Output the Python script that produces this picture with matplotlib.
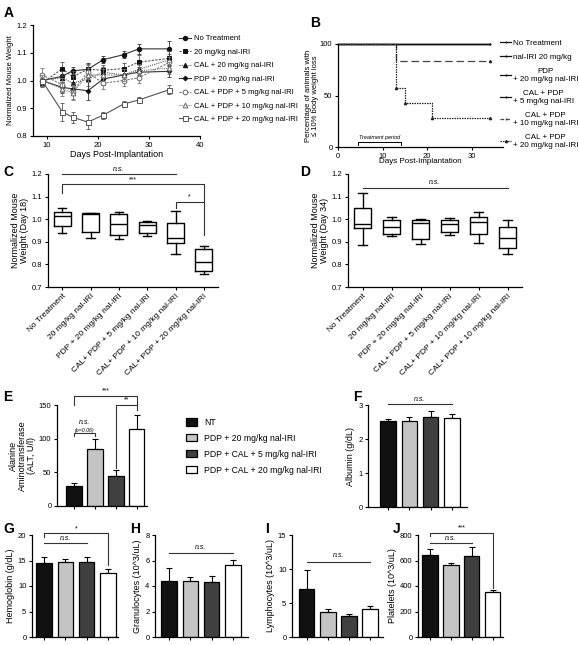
import matplotlib
matplotlib.use('Agg')
import matplotlib.pyplot as plt
from matplotlib.lines import Line2D
from matplotlib.patches import Patch

plt.rcParams['font.family'] = ['Liberation Sans', 'DejaVu Sans']
plt.rcParams['axes.linewidth'] = 0.9
plt.rcParams['xtick.major.width'] = 0.8
plt.rcParams['ytick.major.width'] = 0.8
plt.rcParams['xtick.major.size'] = 2.5
plt.rcParams['ytick.major.size'] = 2.5
plt.rcParams['xtick.major.pad'] = 1.5
plt.rcParams['ytick.major.pad'] = 1.5

# ---------------- data ----------------
# Panel A
days = [9, 13, 15, 18, 21, 25, 28, 34]
a_labels = ["No Treatment", "20 mg/kg nal-IRI", "CAL + 20 mg/kg nal-IRI", "PDP + 20 mg/kg nal-IRI",
            "CAL + PDP + 5 mg/kg nal-IRI", "CAL + PDP + 10 mg/kg nal-IRI", "CAL + PDP + 20 mg/kg nal-IRI"]
a_nt = [1.000, 1.015, 1.035, 1.040, 1.075, 1.093, 1.114, 1.114]
a_nt_err = [0.02, 0.02, 0.012, 0.022, 0.012, 0.012, 0.018, 0.03]
a_n20 = [0.990, 1.043, 1.013, 1.041, 1.037, 1.043, 1.066, 1.080]
a_n20_err = [0.015, 0.025, 0.02, 0.02, 0.02, 0.02, 0.025, 0.025]
a_c20 = [1.000, 1.010, 0.990, 1.005, 1.030, 1.020, 1.040, 1.075]
a_c20_err = [0.02, 0.025, 0.025, 0.025, 0.02, 0.02, 0.02, 0.02]
a_p20 = [1.000, 0.975, 0.970, 0.963, 1.005, 1.020, 1.030, 1.033]
a_p20_err = [0.02, 0.02, 0.02, 0.035, 0.02, 0.02, 0.02, 0.02]
a_cp5 = [1.020, 0.985, 0.960, 1.030, 0.990, 1.000, 1.010, 1.065]
a_cp5_err = [0.025, 0.025, 0.025, 0.025, 0.02, 0.02, 0.02, 0.02]
a_cp10 = [1.000, 0.970, 0.955, 1.020, 1.020, 1.020, 1.035, 1.045]
a_cp10_err = [0.02, 0.025, 0.025, 0.025, 0.02, 0.02, 0.02, 0.02]
a_cp20 = [1.000, 0.887, 0.868, 0.850, 0.875, 0.915, 0.930, 0.967]
a_cp20_err = [0.01, 0.032, 0.02, 0.025, 0.012, 0.01, 0.012, 0.015]

# Panel B (survival-like curves)
b_labels = ["No Treatment", "nal-IRI 20 mg/kg", "PDP\n+ 20 mg/kg nal-IRI", "CAL + PDP\n+ 5 mg/kg nal-IRI",
            "CAL + PDP\n+ 10 mg/kg nal-IRI", "CAL + PDP\n+ 20 mg/kg nal-IRI"]
b_t_flat = [0, 34]
b_s_flat = [100, 100]
b_t_10 = [0, 13, 34]
b_s_10 = [100, 83.3, 83.3]
b_t_20 = [0, 13, 15, 21, 34]
b_s_20 = [100, 57.1, 42.9, 28.6, 28.6]

# Panel C and D box plots: (whislo, q1, med, q3, whishi)
c_labels = ["No Treatment", "20 mg/kg nal-IRI", "PDP + 20 mg/kg nal-IRI", "CAL+ PDP + 5 mg/kg nal-IRI",
            "CAL+ PDP + 10 mg/kg nal-IRI", "CAL+ PDP + 20 mg/kg nal-IRI"]
c_whislo = [0.937, 0.917, 0.912, 0.926, 0.846, 0.756]
c_q1 = [0.970, 0.943, 0.929, 0.940, 0.893, 0.771]
c_med = [1.014, 1.021, 0.977, 0.974, 0.917, 0.809]
c_q3 = [1.030, 1.029, 1.024, 0.989, 0.985, 0.867]
c_whishi = [1.051, 1.029, 1.033, 0.993, 1.036, 0.881]

d_labels = ["No Treatment", "20 mg/kg nal-IRI", "PDP + 20 mg/kg nal-IRI", "CAL+ PDP + 5 mg/kg nal-IRI",
            "CAL+ PDP + 10 mg/kg nal-IRI", "CAL+ PDP + 10 mg/kg nal-IRI"]
d_whislo = [0.884, 0.926, 0.889, 0.932, 0.893, 0.845]
d_q1 = [0.963, 0.934, 0.911, 0.945, 0.934, 0.871]
d_med = [0.979, 0.967, 0.985, 0.977, 0.988, 0.917]
d_q3 = [1.048, 0.996, 0.997, 0.996, 1.008, 0.964]
d_whishi = [1.117, 1.008, 1.002, 1.004, 1.032, 0.996]

# Bar panels E-J (groups: NT, PDP+20, PDP+CAL+5, PDP+CAL+20)
bar_groups = ["NT", "PDP + 20 mg/kg nal-IRI", "PDP + CAL + 5 mg/kg nal-IRI", "PDP + CAL + 20 mg/kg nal-IRI"]
bar_colors = ["#111111", "#c4c4c4", "#404040", "#ffffff"]
e_alt = [30, 84, 45, 115]
e_alt_err = [4.5, 16, 8, 20]
f_alb = [2.52, 2.52, 2.65, 2.63]
f_alb_err = [0.06, 0.13, 0.18, 0.12]
g_hgb = [14.5, 14.7, 14.8, 12.5]
g_hgb_err = [1.1, 0.6, 0.9, 0.9]
h_gran = [4.4, 4.38, 4.3, 5.65]
h_gran_err = [1.05, 0.35, 0.5, 0.4]
i_lym = [7.0, 3.7, 3.15, 4.1]
i_lym_err = [2.9, 0.4, 0.3, 0.45]
j_plt = [643, 568, 638, 352]
j_plt_err = [47, 16, 67, 16]

# ---------------- figure ----------------
W, H = 579, 645
fig = plt.figure(figsize=(W / 100, H / 100), dpi=100)

def ax_px(l, t, r, b):
    ax = fig.add_axes([l / W, 1 - b / H, (r - l) / W, (b - t) / H])
    ax.spines['top'].set_visible(False)
    ax.spines['right'].set_visible(False)
    ax.tick_params(labelsize=5.5)
    return ax

def letter(x, y, s):
    fig.text(x / W, 1 - y / H, s, fontsize=10, fontweight='bold', va='top', ha='left')

TICK = 5.5
LAB = 6.5

# ---- Panel A ----
axA = ax_px(33, 25, 200, 136)
a_series = [a_nt, a_n20, a_c20, a_p20, a_cp5, a_cp10, a_cp20]
a_errs = [a_nt_err, a_n20_err, a_c20_err, a_p20_err, a_cp5_err, a_cp10_err, a_cp20_err]
a_markers = ['o', 's', '^', 'D', 'o', '^', 's']
a_ls = ['-', (0, (2, 1.2)), (0, (1, 1)), '-', (0, (2, 1.2)), (0, (1, 1)), '-']
a_face = ['#111111', '#111111', '#111111', '#111111', 'white', 'white', 'white']
a_edge = ['#111111', '#111111', '#111111', '#111111', '#666666', '#666666', '#555555']
a_lc = ['#333333', '#555555', '#555555', '#333333', '#777777', '#777777', '#555555']
a_ms = [3.2, 3.2, 3.2, 2.4, 3.4, 3.4, 3.6]
handles_a = []
for ys, es, mk, ls, fc, ec, lc, ms, lab in zip(a_series, a_errs, a_markers, a_ls, a_face, a_edge, a_lc, a_ms, a_labels):
    axA.errorbar(days, ys, yerr=es, fmt='none', ecolor=lc, elinewidth=0.6, capsize=1.5, capthick=0.6)
    axA.plot(days, ys, ls=ls, color=lc, lw=0.8, marker=mk, ms=ms, mfc=fc, mec=ec, mew=0.7)
    handles_a.append(Line2D([], [], ls=ls, color=lc, lw=0.8, marker=mk, ms=ms, mfc=fc, mec=ec, mew=0.7))
axA.set_xlim(7.25, 40)
axA.set_ylim(0.8, 1.2)
axA.set_xticks([10, 20, 30, 40])
axA.set_yticks([0.8, 0.9, 1.0, 1.1, 1.2])
axA.tick_params(labelsize=TICK)
axA.set_xlabel("Days Post-Implantation", fontsize=LAB, labelpad=1)
axA.set_ylabel("Normalized Mouse Weight", fontsize=5.5, labelpad=2)
axA.legend(handles_a, a_labels, loc='upper left', bbox_to_anchor=(179 / W, 1 - 35 / H),
           bbox_transform=fig.transFigure, frameon=False, fontsize=5.5, handlelength=1.6,
           handletextpad=0.4, labelspacing=0.8, borderpad=0, borderaxespad=0)
letter(4, 6, "A")

# ---- Panel B ----
axB = ax_px(338, 44, 503, 147)
axB.plot(b_t_flat, b_s_flat, color='#111111', lw=0.9, marker='|', ms=2, markevery=[1], clip_on=False)
axB.plot(b_t_flat, b_s_flat, color='#111111', lw=0.9, clip_on=False)
axB.plot(b_t_flat, b_s_flat, color='#111111', lw=0.9, clip_on=False)
axB.plot(b_t_flat, b_s_flat, color='#111111', lw=0.9, clip_on=False)
axB.plot(b_t_10, b_s_10, color='#444444', lw=0.9, ls=(0, (6, 3)), drawstyle='steps-post', clip_on=False)
axB.plot(b_t_20, b_s_20, color='#222222', lw=0.9, ls=(0, (1.2, 0.8)), drawstyle='steps-post', clip_on=False)
axB.plot(b_t_10[-1:], b_s_10[-1:], ls='none', marker='^', ms=1.6, color='#222222', clip_on=False)
axB.plot(b_t_20[1:], b_s_20[1:], ls='none', marker='^', ms=1.6, color='#222222', clip_on=False)
axB.set_xlim(0, 37)
axB.set_ylim(0, 100)
axB.set_xticks([0, 10, 20, 30])
axB.set_yticks([0, 50, 100])
axB.tick_params(labelsize=TICK)
axB.set_xlabel("Days Post-Implantation", fontsize=5.8, labelpad=-1)
axB.set_ylabel("Percentage of animals with\n≤ 10% body weight loss", fontsize=5.5, labelpad=1, linespacing=1.0)
# treatment period bracket
tp_start, tp_end, tp_y = 4.5, 14.2, 5
axB.plot([tp_start, tp_start, tp_end, tp_end], [tp_y - 3, tp_y, tp_y, tp_y - 3], color='black', lw=0.7)
axB.text((tp_start + tp_end) / 2, tp_y + 2, "Treatment period", fontsize=4, style='italic', ha='center', va='bottom')
b_handles = [Line2D([], [], color='#111111', lw=0.9, marker='|', ms=2, markevery=[1]) for _ in range(4)]
b_handles.append(Line2D([], [], color='#444444', lw=0.9, ls=(0, (3, 1.5)), marker='|', ms=2))
b_handles.append(Line2D([], [], color='#222222', lw=0.9, ls=(0, (1.2, 0.8)), marker='^', ms=1.6))
legB = axB.legend(b_handles, b_labels, loc='upper left', bbox_to_anchor=(500 / W, 1 - 39 / H),
                  bbox_transform=fig.transFigure, frameon=False, fontsize=5.8, handlelength=1.4,
                  handletextpad=0.2, labelspacing=0.85, borderpad=0, borderaxespad=0)
for t in legB.get_texts():
    t.set_multialignment('center')
letter(310, 16, "B")

# ---- Panel C/D box plots ----
def boxplot(ax, wl, q1, med, q3, wh):
    stats = [dict(whislo=a, q1=b, med=c, q3=d, whishi=e, fliers=[]) for a, b, c, d, e in zip(wl, q1, med, q3, wh)]
    ax.bxp(stats, positions=range(len(stats)), widths=0.6, showfliers=False,
           boxprops=dict(color='black', lw=1.0), medianprops=dict(color='black', lw=1.0),
           whiskerprops=dict(color='black', lw=1.0), capprops=dict(color='black', lw=1.0))

axC = ax_px(48, 174, 218, 287)
boxplot(axC, c_whislo, c_q1, c_med, c_q3, c_whishi)
axC.set_xlim(-0.5, 5.5)
axC.set_ylim(0.7, 1.2)
axC.set_yticks([0.7, 0.8, 0.9, 1.0, 1.1, 1.2])
axC.set_yticklabels(["0.7", "0.8", "0.9", "1.0", "1.1", "1.2"])
axC.set_xticks(range(6))
axC.set_xticklabels(c_labels, rotation=45, ha='right', rotation_mode='anchor', fontsize=6)
axC.tick_params(axis='y', labelsize=TICK)
axC.set_ylabel("Normalized Mouse\nWeight (Day 18)", fontsize=LAB, labelpad=2, linespacing=1.0)
kw = dict(color='#333333', lw=0.8, clip_on=False)
axC.plot([0, 4], [1.2, 1.2], **kw)
axC.text(2, 1.205, "n.s.", fontsize=5, style='italic', ha='center', va='bottom')
axC.plot([0, 0, 5, 5], [1.114, 1.156, 1.156, 0.93], **kw)
axC.text(2.5, 1.16, "***", fontsize=5, ha='center', va='bottom')
axC.plot([4, 4, 5], [1.05, 1.078, 1.078], **kw)
axC.text(4.5, 1.082, "*", fontsize=5, ha='center', va='bottom')
letter(3, 165, "C")

axD = ax_px(348, 174, 522, 287)
boxplot(axD, d_whislo, d_q1, d_med, d_q3, d_whishi)
axD.set_xlim(-0.5, 5.5)
axD.set_ylim(0.7, 1.2)
axD.set_yticks([0.7, 0.8, 0.9, 1.0, 1.1, 1.2])
axD.set_yticklabels(["0.7", "0.8", "0.9", "1.0", "1.1", "1.2"])
axD.set_xticks(range(6))
axD.set_xticklabels(d_labels, rotation=45, ha='right', rotation_mode='anchor', fontsize=6)
axD.tick_params(axis='y', labelsize=TICK)
axD.set_ylabel("Normalized Mouse\nWeight (Day 34)", fontsize=LAB, labelpad=2, linespacing=1.0)
axD.plot([0, 5], [1.14, 1.14], **kw)
axD.text(2.5, 1.145, "n.s.", fontsize=5, style='italic', ha='center', va='bottom')
letter(300, 165, "D")

# ---- Bar panels ----
def bars(ax, vals, errs, xlim, ylim, yticks, ylabel):
    x = range(len(vals))
    ax.bar(x, vals, width=0.72, color=bar_colors, edgecolor='black', linewidth=0.9, zorder=2)
    ax.errorbar(x, vals, yerr=[[0] * len(errs), errs], fmt='none', ecolor='black', elinewidth=0.8,
                capsize=2, capthick=0.8, zorder=1)
    ax.set_xlim(*xlim)
    ax.set_ylim(*ylim)
    ax.set_yticks(yticks)
    ax.set_xticks(list(x))
    ax.set_xticklabels([])
    ax.tick_params(labelsize=TICK)
    ax.set_ylabel(ylabel, fontsize=LAB, labelpad=2, linespacing=1.0)

axE = ax_px(57, 405, 147, 506)
bars(axE, e_alt, e_alt_err, (-0.81, 3.48), (0, 150), [0, 50, 100, 150], "Alanine\nAminotransferase\n(ALT, U/l)")
axE.plot([0, 0, 3, 3], [150, 164, 164, 150], **kw)
axE.text(1.5, 166, "***", fontsize=5, ha='center', va='bottom')
axE.plot([2, 2, 3, 3], [57, 150, 150, 143], **kw)
axE.text(2.5, 152, "**", fontsize=5, ha='center', va='bottom')
axE.plot([0, 0, 1, 1], [104, 108, 108, 104], **kw)
axE.text(0.5, 109, "(p=0.06)", fontsize=3.8, style='italic', ha='center', va='bottom')
axE.text(0.5, 119, "n.s.", fontsize=5, style='italic', ha='center', va='bottom')
axE.legend([Patch(facecolor=c, edgecolor='black', lw=0.9) for c in bar_colors], bar_groups,
           loc='upper left', bbox_to_anchor=(186 / W, 1 - 418 / H), bbox_transform=fig.transFigure,
           frameon=False, fontsize=6.2, handlelength=1.3, handleheight=0.9, handletextpad=0.8,
           labelspacing=0.8, borderpad=0, borderaxespad=0)
letter(3, 390, "E")

axF = ax_px(368, 405, 467, 507)
bars(axF, f_alb, f_alb_err, (-0.94, 3.71), (0, 3), [0, 1, 2, 3], "Albumin (g/dL)")
axF.plot([0, 3], [3.03, 3.03], **kw)
axF.text(1.5, 3.06, "n.s.", fontsize=5, style='italic', ha='center', va='bottom')
letter(353, 390, "F")

axG = ax_px(32, 535, 118, 637)
bars(axG, g_hgb, g_hgb_err, (-0.56, 3.47), (0, 20), [0, 5, 10, 15, 20], "Hemoglobin (g/dL)")
axG.plot([0, 0, 3, 3], [19.6, 20.3, 20.3, 14.2], **kw)
axG.text(1.5, 20.5, "*", fontsize=5, ha='center', va='bottom')
axG.plot([0, 2], [18.4, 18.4], **kw)
axG.text(1, 18.7, "n.s.", fontsize=5, style='italic', ha='center', va='bottom')
letter(3, 522, "G")

axH = ax_px(155, 535, 248, 637)
bars(axH, h_gran, h_gran_err, (-0.66, 3.71), (0, 8), [0, 2, 4, 6, 8], "Granulocytes (10^3/uL)")
axH.plot([0, 3], [6.6, 6.6], **kw)
axH.text(1.5, 6.75, "n.s.", fontsize=5, style='italic', ha='center', va='bottom')
letter(130, 522, "H")

axI = ax_px(292, 535, 383, 637)
bars(axI, i_lym, i_lym_err, (-0.71, 3.62), (0, 15), [0, 5, 10, 15], "Lymphocytes (10^3/uL)")
axI.plot([0, 3], [11.1, 11.1], **kw)
axI.text(1.5, 11.4, "n.s.", fontsize=5, style='italic', ha='center', va='bottom')
letter(265, 522, "I")

axJ = ax_px(418, 535, 503, 637)
bars(axJ, j_plt, j_plt_err, (-0.57, 3.48), (0, 800), [0, 200, 400, 600, 800], "Platelets (10^3/uL)")
axJ.plot([0, 0, 3, 3], [790, 819, 819, 385], **kw)
axJ.text(1.5, 825, "***", fontsize=5, ha='center', va='bottom')
axJ.plot([0, 2], [735, 735], **kw)
axJ.text(1, 745, "n.s.", fontsize=5, style='italic', ha='center', va='bottom')
letter(393, 522, "J")

fig.savefig("out.png", dpi=100)
